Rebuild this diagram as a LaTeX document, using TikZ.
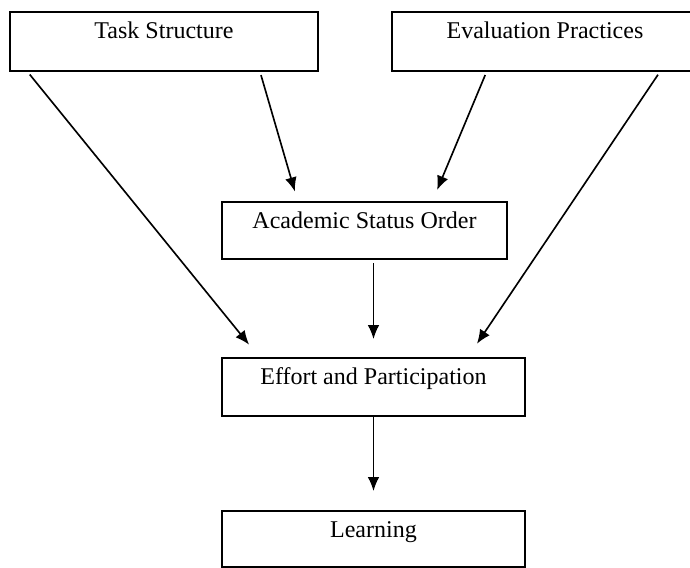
\documentclass[tikz,border=0pt]{standalone}
\usepackage{fontspec}
\setmainfont{Liberation Serif}
\usetikzlibrary{positioning}
\usetikzlibrary{arrows.meta}
\usetikzlibrary{calc}

\tikzset{
  box/.style={draw, line width=1.6pt, inner sep=0pt, text height=0.8cm, font=\fontsize{20.5}{24}\selectfont},
  arr/.style={line width=1.4pt, -{Latex[length=12pt,width=10pt]}}
}

\begin{document}
\begin{tikzpicture}[x=0.03cm, y=-0.03cm]
\useasboundingbox (0,0) rectangle (690,568);
\clip (0,0) rectangle (690,568);
%\draw[help lines] (0,0) grid (690,568);
\node[box, minimum width=9.24cm, text depth=0.97cm] (task) at (164,41.5) {Task Structure};
\node[box, minimum width=9.18cm, text depth=0.97cm] (eval) at (545,41.5) {Evaluation Practices};
\node[box, minimum width=8.55cm, text depth=0.91cm] (acad) at (364.5,230.5) {Academic Status Order};
\node[box, minimum width=9.09cm, text depth=0.94cm] (effort) at (373.5,387) {Effort and Participation};
\node[box, minimum width=9.09cm, text depth=0.88cm] (learn) at (373.5,539) {Learning};
% arrows into the status order
\draw[arr, shorten <=0.1cm, shorten >=0.3cm] ($(task.south west)!0.81!(task.south east)$) -- ($(acad.north west)!0.267!(acad.north east)$);
\draw[arr, shorten <=0.1cm, shorten >=0.36cm] ($(eval.south west)!0.31!(eval.south east)$) -- ($(acad.north west)!0.737!(acad.north east)$);
% arrows into effort
\draw[arr, shorten <=0.1cm, shorten >=0.48cm] ($(task.south west)!0.06!(task.south east)$) -- ($(effort.north west)!0.125!(effort.north east)$);
\draw[arr, shorten <=0.1cm, shorten >=0.48cm] ($(eval.south west)!0.873!(eval.south east)$) -- ($(effort.north west)!0.81!(effort.north east)$);
\draw[arr, shorten <=0.1cm, shorten >=0.54cm] (acad.south -| effort.north) -- (effort.north);
% into learning
\draw[arr, shorten >=0.57cm] (effort.south) -- (learn.north);
\end{tikzpicture}
\end{document}
